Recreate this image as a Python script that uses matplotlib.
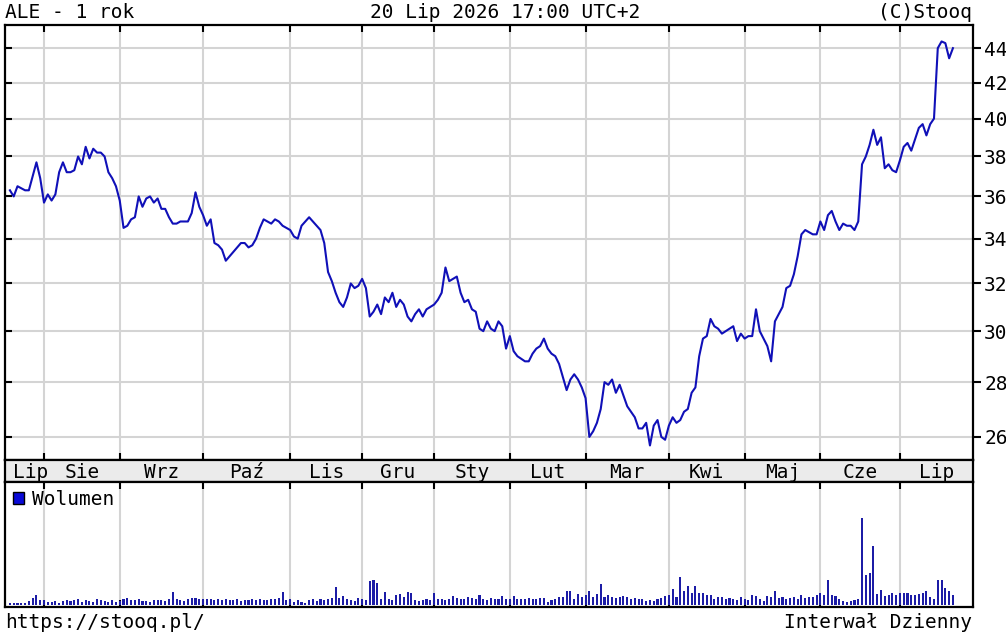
import matplotlib
matplotlib.use("Agg")
import matplotlib.pyplot as plt
from matplotlib.patches import Patch
from matplotlib.ticker import FixedLocator, NullLocator, FixedFormatter

# kurs zamkniecia, sesje od 21 Lip 2025 do 20 Lip 2026
price_jul25 = [36.3, 36.0, 36.5, 36.4, 36.3, 36.3, 37.0, 37.7, 36.9]
price_aug = [35.7, 36.1, 35.8, 36.1, 37.2, 37.7, 37.2, 37.2, 37.3, 38.0,
             37.6, 38.5, 37.9, 38.4, 38.2, 38.2, 38.0, 37.2, 36.9, 36.5]
price_sep = [35.8, 34.5, 34.6, 34.9, 35.0, 36.0, 35.5, 35.9, 36.0, 35.7, 35.9,
             35.4, 35.4, 35.0, 34.7, 34.7, 34.8, 34.8, 34.8, 35.2, 36.2, 35.5]
price_oct = [35.1, 34.6, 34.9, 33.8, 33.7, 33.5, 33.0, 33.2, 33.4, 33.6, 33.8, 33.8,
             33.6, 33.7, 34.0, 34.5, 34.9, 34.8, 34.7, 34.9, 34.8, 34.6, 34.5]
price_nov = [34.4, 34.1, 34.0, 34.6, 34.8, 35.0, 34.8, 34.6, 34.4, 33.8,
             32.5, 32.1, 31.6, 31.2, 31.0, 31.4, 32.0, 31.8, 31.9]
price_dec = [32.2, 31.8, 30.6, 30.8, 31.1, 30.7, 31.4, 31.2, 31.6, 31.0,
             31.3, 31.1, 30.6, 30.4, 30.7, 30.9, 30.6, 30.9, 31.0]
price_jan = [31.1, 31.3, 31.6, 32.7, 32.1, 32.2, 32.3, 31.6, 31.2, 31.3,
             30.9, 30.8, 30.1, 30.0, 30.4, 30.1, 30.0, 30.4, 30.2, 29.3]
price_feb = [29.8, 29.2, 29.0, 28.9, 28.8, 28.8, 29.1, 29.3, 29.4, 29.7,
             29.3, 29.1, 29.0, 28.7, 28.2, 27.7, 28.1, 28.3, 28.1, 27.8]
price_mar = [27.4, 26.0, 26.2, 26.5, 27.0, 28.0, 27.9, 28.1, 27.6, 27.9, 27.5,
             27.1, 26.9, 26.7, 26.3, 26.3, 26.5, 25.7, 26.4, 26.6, 26.0, 25.9]
price_apr = [26.4, 26.7, 26.5, 26.6, 26.9, 27.0, 27.6, 27.8, 29.0, 29.7,
             29.8, 30.5, 30.2, 30.1, 29.9, 30.0, 30.1, 30.2, 29.6, 29.9]
price_may = [29.7, 29.8, 29.8, 30.9, 30.0, 29.7, 29.4, 28.8, 30.4, 30.7,
             31.0, 31.8, 31.9, 32.4, 33.2, 34.2, 34.4, 34.3, 34.2, 34.2]
price_jun = [34.8, 34.4, 35.1, 35.3, 34.8, 34.4, 34.7, 34.6, 34.6, 34.4, 34.8,
             37.6, 38.0, 38.6, 39.4, 38.6, 39.0, 37.4, 37.6, 37.3, 37.2]
price_jul26 = [37.8, 38.5, 38.7, 38.3, 38.9, 39.5, 39.7, 39.1, 39.7, 40.0,
               44.0, 44.4, 44.3, 43.4, 44.0]

# wolumen (jednostki umowne)
vol_jul25 = [2, 2, 2, 2, 2, 4, 7, 10, 5]
vol_aug = [5, 3, 3, 4, 2, 4, 5, 4, 5, 6, 3, 5, 4, 3, 6, 5, 4, 3, 5, 3]
vol_sep = [4, 6, 7, 5, 5, 6, 4, 4, 3, 5, 5, 5, 4, 6, 13, 6, 5, 4, 6, 7, 7, 6]
vol_oct = [6, 6, 6, 5, 6, 5, 6, 5, 5, 6, 4, 5, 5, 6, 5, 6, 5, 5, 6, 6, 7, 13, 5]
vol_nov = [6, 3, 5, 3, 2, 5, 6, 4, 6, 5, 6, 7, 18, 7, 9, 6, 5, 4, 7]
vol_dec = [6, 5, 24, 25, 22, 6, 13, 6, 5, 10, 11, 8, 13, 12, 5, 4, 5, 6, 5]
vol_jan = [12, 6, 6, 5, 6, 9, 7, 6, 6, 8, 7, 6, 10, 6, 5, 7, 6, 6, 9, 6]
vol_feb = [6, 9, 6, 6, 6, 7, 6, 6, 7, 7, 3, 5, 6, 8, 8, 14, 14, 6, 11, 8]
vol_mar = [10, 14, 8, 11, 21, 8, 10, 8, 7, 8, 9, 8, 6, 7, 6, 6, 4, 5, 4, 6, 7, 9]
vol_apr = [10, 16, 8, 28, 14, 19, 12, 19, 12, 12, 10, 10, 6, 8, 8, 6, 7, 6, 5, 8]
vol_may = [6, 5, 10, 9, 6, 4, 9, 8, 14, 7, 8, 6, 7, 8, 6, 10, 7, 8, 8, 10]
vol_jun = [12, 10, 25, 10, 9, 6, 4, 3, 4, 5, 6, 88, 30, 32, 59, 11, 15, 9, 10, 12, 10]
vol_jul26 = [12, 12, 12, 10, 10, 11, 12, 14, 8, 6, 25, 25, 17, 14, 10]

months = ["Lip", "Sie", "Wrz", "Paź", "Lis", "Gru", "Sty", "Lut", "Mar", "Kwi", "Maj", "Cze", "Lip"]
price_ticks = [26, 28, 30, 32, 34, 36, 38, 40, 42, 44]

price_blocks = [price_jul25, price_aug, price_sep, price_oct, price_nov, price_dec, price_jan,
                price_feb, price_mar, price_apr, price_may, price_jun, price_jul26]
vol_blocks = [vol_jul25, vol_aug, vol_sep, vol_oct, vol_nov, vol_dec, vol_jan,
              vol_feb, vol_mar, vol_apr, vol_may, vol_jun, vol_jul26]
price = [p for b in price_blocks for p in b]
volume = [v for b in vol_blocks for v in b]
x = list(range(len(price)))

# poczatki miesiecy (indeks sesji)
starts = []
n = 0
for b in price_blocks[:-1]:
    n += len(b)
    starts.append(n)

XMIN, XMAX = -1.3, 254.3
FONT = "DejaVu Sans Mono"
plt.rcParams["font.family"] = FONT
LINE = "#1010b8"
GRID = "#d4d4d4"

fig = plt.figure(figsize=(10.06, 6.38), dpi=100)
W, H = 1006, 638


def box(l, t, r, b):
    return [l / W, 1 - b / H, (r - l) / W, (b - t) / H]


def style(ax):
    for s in ax.spines.values():
        s.set_linewidth(1.6)
        s.set_color("black")


# --- kurs ---
ax = fig.add_axes(box(5, 25, 973, 460))
ax.plot(x, price, color=LINE, lw=1.5, zorder=3)
ax.set_yscale("log")
ax.set_xlim(XMIN, XMAX)
ax.set_ylim(25.2, 45.4)
ax.yaxis.set_major_locator(FixedLocator(price_ticks))
ax.yaxis.set_minor_locator(NullLocator())
ax.yaxis.set_major_formatter(FixedFormatter([]))
ax.xaxis.set_major_locator(FixedLocator(starts))
ax.tick_params(axis="y", left=True, right=False, direction="in", length=5, width=1.5)
ax.tick_params(axis="x", top=True, bottom=True, direction="in", length=5, width=1.5,
               labelbottom=False)
ax.grid(True, color=GRID, lw=1.5, zorder=0)
style(ax)

ax_r = ax.twinx()
ax_r.set_yscale("log")
ax_r.set_ylim(25.2, 45.4)
ax_r.yaxis.set_major_locator(FixedLocator(price_ticks))
ax_r.yaxis.set_minor_locator(NullLocator())
ax_r.set_yticklabels([str(t) for t in price_ticks])
ax_r.tick_params(axis="y", direction="out", length=6, width=1.5, labelsize=14, pad=2)
for s in ax_r.spines.values():
    s.set_visible(False)

# --- pasek miesiecy ---
ax_m = fig.add_axes(box(5, 460, 973, 482))
ax_m.set_facecolor("#ebebeb")
ax_m.set_xlim(XMIN, XMAX)
ax_m.set_ylim(0, 1)
ax_m.set_xticks([])
ax_m.set_yticks([])
style(ax_m)
edges = [XMIN + 6.5] + starts + [XMAX]
edges[0] = 1.0
mids = [(edges[0] + edges[1]) / 2 + 0.5] + [(edges[i] + edges[i + 1]) / 2 for i in range(1, len(edges) - 1)]
for m, lab in zip(mids, months):
    ax_m.text(m, 0.45, lab, ha="center", va="center", fontsize=14)

# --- wolumen ---
ax_v = fig.add_axes(box(5, 482, 973, 607))
ax_v.bar(x, volume, width=0.55, color="#1c1ca6", zorder=3)
ax_v.set_xlim(XMIN, XMAX)
ax_v.set_ylim(-2, 124)
ax_v.set_yticks([])
ax_v.xaxis.set_major_locator(FixedLocator(starts))
ax_v.tick_params(axis="x", top=True, bottom=True, direction="in", length=5, width=1.5,
                 labelbottom=False)
ax_v.grid(True, axis="x", color=GRID, lw=1.5, zorder=0)
style(ax_v)
ax_v.legend(handles=[Patch(facecolor="#0a0ad8", edgecolor="black", lw=1)], labels=["Wolumen"],
            loc="upper left", frameon=False, fontsize=14, handlelength=0.6, handleheight=0.6,
            handletextpad=0.4, borderaxespad=0.2, borderpad=0.2)

# --- napisy ---
fig.text(5 / W, 1 - 12 / H, "ALE - 1 rok", ha="left", va="center", fontsize=14)
fig.text(505 / W, 1 - 12 / H, "20 Lip 2026 17:00 UTC+2", ha="center", va="center", fontsize=14)
fig.text(972 / W, 1 - 12 / H, "(C)Stooq", ha="right", va="center", fontsize=14)
fig.text(5 / W, 1 - 622 / H, "https://stooq.pl/", ha="left", va="center", fontsize=14)
fig.text(972 / W, 1 - 622 / H, "Interwał Dzienny", ha="right", va="center", fontsize=14)

fig.savefig("out.png", dpi=100)
